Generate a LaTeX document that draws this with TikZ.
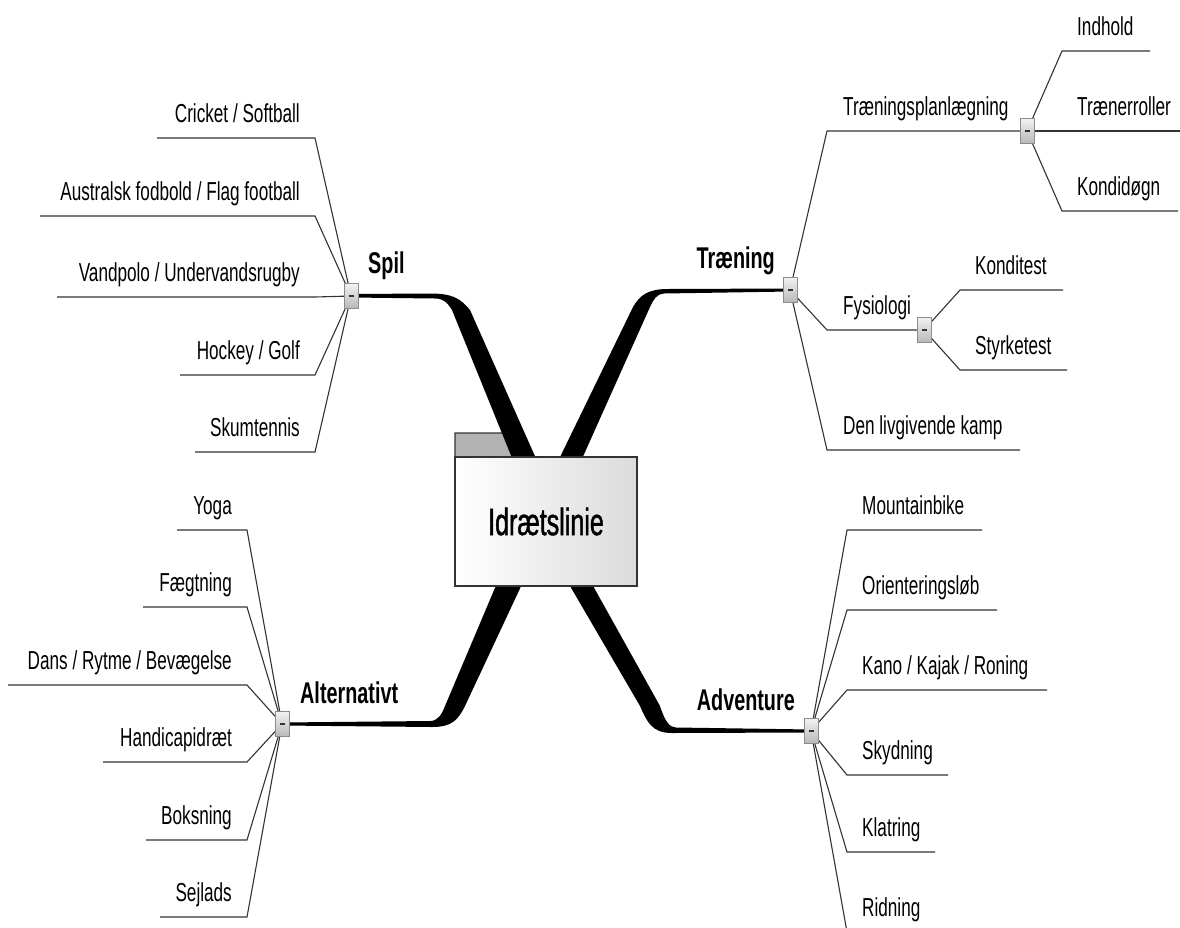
\documentclass[tikz,border=0pt]{standalone}
\usepackage{fontspec}
\setmainfont{Liberation Sans}[FakeStretch=0.66]
\newfontfamily\hubfont{Liberation Sans}[FakeStretch=0.66, FakeBold=1.2]
\usetikzlibrary{positioning,calc}

\tikzset{
  leaf/.style={draw=black!80, line width=1.1pt},
  branch/.style={fill=black},
  leaftext/.style={inner sep=0pt, font=\fontsize{26}{30}\selectfont},
  toptext/.style={inner sep=0pt, font=\fontsize{30}{34}\selectfont\bfseries},
  togglebox/.style={draw=black!45, line width=1pt, top color=black!5, bottom color=black!28,
    minimum width=14pt, minimum height=25pt, inner sep=0pt,
    path picture={\draw[black!80, line width=2pt] ([xshift=-2.5pt]path picture bounding box.center) -- ([xshift=2.5pt]path picture bounding box.center);}},
  hubbox/.style={draw=black!80, line width=1.5pt, left color=white, right color=black!14,
    minimum width=182pt, minimum height=129pt, inner sep=0pt, font=\hubfont\fontsize{38}{44}\selectfont},
}

\begin{document}
\begin{tikzpicture}[x=1pt, y=-1pt]
    \useasboundingbox (0,0) rectangle (1180,927);
    \clip (0,0) rectangle (1180,927);

    % Toggle points
    \coordinate (spil) at (351,296);
    \coordinate (train) at (790,290);
    \coordinate (plan) at (1027,131);
    \coordinate (fys) at (924,330);
    \coordinate (alt) at (282,724);
    \coordinate (adv) at (811,731);

    % Spil leaves
    \foreach \y/\xe/\t [count=\i] in {138/157/{Cricket / Softball}, 216/40/{Australsk fodbold / Flag football},
        297/57/{Vandpolo / Undervandsrugby}, 375/180/{Hockey / Golf}, 452/195/Skumtennis} {
        \coordinate (spil-j\i) at (315,\y);
        \coordinate (spil-e\i) at (\xe,\y);
        \draw[leaf] (spil) -- (spil-j\i) -- (spil-e\i);
        \node[leaftext, anchor=base east] (spil-t\i) at ([xshift=-15pt, yshift=16pt]spil-j\i) {\t};
    }

    % Alternativt leaves
    \foreach \y/\xe/\t [count=\i] in {530/177/Yoga, 607/143/Fægtning, 685/8/{Dans / Rytme / Bevægelse},
        762/103/Handicapidræt, 840/146/Boksning, 917/160/Sejlads} {
        \coordinate (alt-j\i) at (247,\y);
        \coordinate (alt-e\i) at (\xe,\y);
        \draw[leaf] (alt) -- (alt-j\i) -- (alt-e\i);
        \node[leaftext, anchor=base east] (alt-t\i) at ([xshift=-15pt, yshift=16pt]alt-j\i) {\t};
    }

    % Adventure leaves
    \foreach \y/\xe/\t [count=\i] in {530/982/Mountainbike, 610/997/Orienteringsløb, 690/1047/{Kano / Kajak / Roning},
        775/948/Skydning, 852/935/Klatring, 932/940/Ridning} {
        \coordinate (adv-j\i) at (847,\y);
        \coordinate (adv-e\i) at (\xe,\y);
        \draw[leaf] (adv) -- (adv-j\i) -- (adv-e\i);
        \node[leaftext, anchor=base west] (adv-t\i) at ([xshift=15pt, yshift=16pt]adv-j\i) {\t};
    }

    % Traening leaves
    \coordinate (train-j1) at (827,131);
    \coordinate (train-j2) at (827,330);
    \coordinate (train-j3) at (827,450);
    \coordinate (train-e3) at (1020,450);
    \draw[leaf] (train) -- (train-j1) -- (plan);
    \draw[leaf] (train) -- (train-j2) -- (fys);
    \draw[leaf] (train) -- (train-j3) -- (train-e3);
    \node[leaftext, anchor=base west] (train-t1) at ([xshift=16pt, yshift=16pt]train-j1) {Træningsplanlægning};
    \node[leaftext, anchor=base west] (train-t2) at ([xshift=16pt, yshift=16pt]train-j2) {Fysiologi};
    \node[leaftext, anchor=base west] (train-t3) at ([xshift=16pt, yshift=16pt]train-j3) {Den livgivende kamp};

    \foreach \y/\xe/\t [count=\i] in {51/1150/Indhold, 131/1185/Trænerroller, 211/1178/Kondidøgn} {
        \coordinate (plan-j\i) at (1062,\y);
        \coordinate (plan-e\i) at (\xe,\y);
        \draw[leaf] (plan) -- (plan-j\i) -- (plan-e\i);
        \node[leaftext, anchor=base west] (plan-t\i) at ([xshift=15pt, yshift=16pt]plan-j\i) {\t};
    }
    \foreach \y/\xe/\t [count=\i] in {290/1063/Konditest, 370/1067/Styrketest} {
        \coordinate (fys-j\i) at (960,\y);
        \coordinate (fys-e\i) at (\xe,\y);
        \draw[leaf] (fys) -- (fys-j\i) -- (fys-e\i);
        \node[leaftext, anchor=base west] (fys-t\i) at ([xshift=15pt, yshift=16pt]fys-j\i) {\t};
    }

    % Tab of the central folder
    \filldraw[fill=black!30, draw=black!80, line width=1.2pt] (455,457) -- (455,433) -- (517,433) -- (527,457);

    % Thick main branches
    \fill[branch] ([yshift=2pt]spil) -- (430,293.5) .. controls (452,293.5) and (460,298) .. (470,310)
        -- (550,490) -- (525,490) -- (452,310) .. controls (447,302) and (443,298.5) .. (435,298.5)
        -- ([yshift=-1.5pt]spil) -- cycle;
    \fill[branch] ([yshift=1.5pt]train) -- (668,289) .. controls (648,289) and (640,295) .. (633,307)
        -- (544,490) -- (568,490) -- (650,307) .. controls (653,300) and (657,293.5) .. (664,293.5)
        -- ([yshift=-1.5pt]train) -- cycle;
    \fill[branch] ([yshift=1.5pt]alt) -- (430,721) .. controls (438,721) and (442,714) .. (445,706)
        -- (511,550) -- (538,550) -- (465,706) .. controls (458,720) and (452,727) .. (432,727)
        -- ([yshift=-1.5pt]alt) -- cycle;
    \fill[branch] ([yshift=1.5pt]adv) -- (676,727.5) .. controls (670,727.5) and (665,722) .. (660,706)
        -- (573,550) -- (549,550) -- (640,706) .. controls (647,722) and (652,733) .. (672,733)
        -- ([yshift=-1.5pt]adv) -- cycle;

    % Central topic
    \node[hubbox] (hub) at (546,521.5) {Idrætslinie};

    % Toggle boxes
    \foreach \p in {spil, train, plan, fys, alt, adv}
        \node[togglebox] (\p box) at (\p) {};

    % Main topic labels
    \node[toptext, anchor=base west] (spil-lbl) at ([xshift=17pt, yshift=23pt]spil) {Spil};
    \node[toptext, anchor=base east] (train-lbl) at ([xshift=-15pt, yshift=22pt]train) {Træning};
    \node[toptext, anchor=base west] (alt-lbl) at ([xshift=18pt, yshift=21pt]alt) {Alternativt};
    \node[toptext, anchor=base east] (adv-lbl) at ([xshift=-16pt, yshift=21pt]adv) {Adventure};
\end{tikzpicture}
\end{document}
